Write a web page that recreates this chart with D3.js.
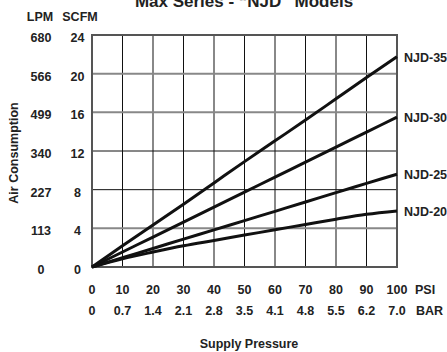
<!DOCTYPE html>
<html>
<head>
<meta charset="utf-8">
<script src="https://cdn.jsdelivr.net/npm/d3@7"></script>
<style>
  body { margin: 0; background: #fff; }
  svg text { font-family: "Liberation Sans", Arial, Helvetica, sans-serif; font-weight: bold; fill: #222; }
</style>
</head>
<body>
<svg id="chart" width="447" height="352"></svg>
<script>
// pressure in PSI, with the matching BAR labels
const psi = [0, 10, 20, 30, 40, 50, 60, 70, 80, 90, 100]
const bar = ["0", "0.7", "1.4", "2.1", "2.8", "3.5", "4.1", "4.8", "5.5", "6.2", "7.0"]

// consumption ticks: SCFM and LPM
const scfmTicks = [0, 4, 8, 12, 16, 20, 24]
const lpmTicks = ["0", "113", "227", "340", "499", "566", "680"]

// SCFM values, one per psi step
const njd35 = [0, 2.2, 4.35, 6.5, 8.7, 10.9, 13.05, 15.2, 17.4, 19.6, 21.75]
const njd30 = [0, 1.55, 3.1, 4.65, 6.2, 7.75, 9.3, 10.85, 12.4, 13.95, 15.5]
const njd25 = [0, 0.96, 1.92, 2.88, 3.84, 4.8, 5.76, 6.72, 7.7, 8.65, 9.6]
const njd20 = [0, 0.85, 1.55, 2.2, 2.75, 3.3, 3.85, 4.4, 4.95, 5.45, 5.8]

const seriesNames = ["NJD-35", "NJD-30", "NJD-25", "NJD-20"]
const seriesValues = [njd35, njd30, njd25, njd20]

const svg = d3.select("#chart")
const plotLeft = 92, plotRight = 397, plotTop = 35, plotBottom = 267
const fs = "12.5px"

const x = d3.scaleLinear().domain([0, 100]).range([plotLeft, plotRight])
const y = d3.scaleLinear().domain([0, 24]).range([plotBottom, plotTop])

// title, cut off at the top as in the scan
svg.append("text")
  .attr("x", 244).attr("y", 7)
  .attr("text-anchor", "middle")
  .attr("font-size", "17px")
  .text("Max Series - \u201CNJD\u201D Models")

// unit headers
svg.append("text").attr("x", 40).attr("y", 20.5).attr("text-anchor", "middle")
  .attr("font-size", fs).text("LPM")
svg.append("text").attr("x", 80).attr("y", 20.5).attr("text-anchor", "middle")
  .attr("font-size", fs).text("SCFM")

// grid lines
const grid = svg.append("g").attr("class", "grid")
grid.selectAll("line.v")
  .data(psi.slice(1, -1))
  .enter().append("line")
  .attr("class", "v")
  .attr("x1", d => x(d)).attr("x2", d => x(d))
  .attr("y1", plotTop).attr("y2", plotBottom)
  .attr("stroke", d => (d / 10) % 2 ? "#111" : "#888")
  .attr("stroke-width", d => (d / 10) % 2 ? 1 : 2)

grid.selectAll("line.h")
  .data(scfmTicks.slice(1, -1))
  .enter().append("line")
  .attr("class", "h")
  .attr("y1", d => y(d)).attr("y2", d => y(d))
  .attr("x1", plotLeft).attr("x2", plotRight)
  .attr("stroke", d => (d === 8 || d === 12) ? "#111" : "#888")
  .attr("stroke-width", d => (d === 8 || d === 12) ? 1 : 2)

// frame
svg.append("rect")
  .attr("x", plotLeft).attr("y", plotTop)
  .attr("width", plotRight - plotLeft).attr("height", plotBottom - plotTop)
  .attr("fill", "none").attr("stroke", "#555").attr("stroke-width", 2)

// y labels, two columns
svg.append("g").selectAll("text")
  .data(scfmTicks)
  .enter().append("text")
  .attr("x", 77.5).attr("y", d => y(d) + 7)
  .attr("text-anchor", "middle").attr("font-size", fs)
  .text(d => d)

svg.append("g").selectAll("text")
  .data(lpmTicks)
  .enter().append("text")
  .attr("x", 41).attr("y", (d, i) => y(scfmTicks[i]) + 7)
  .attr("text-anchor", "middle").attr("font-size", fs)
  .text(d => d)

svg.append("text")
  .attr("transform", "translate(18,153) rotate(-90)")
  .attr("text-anchor", "middle").attr("font-size", fs)
  .text("Air Consumption")

// x labels, psi and bar rows
svg.append("g").selectAll("text")
  .data(psi)
  .enter().append("text")
  .attr("x", d => x(d)).attr("y", 294)
  .attr("text-anchor", "middle").attr("font-size", fs)
  .text(d => d)
svg.append("text").attr("x", 415).attr("y", 294).attr("font-size", fs).text("PSI")

svg.append("g").selectAll("text")
  .data(bar)
  .enter().append("text")
  .attr("x", (d, i) => x(psi[i])).attr("y", 315)
  .attr("text-anchor", "middle").attr("font-size", fs)
  .text(d => d)
svg.append("text").attr("x", 416).attr("y", 315).attr("font-size", fs).text("BAR")

svg.append("text")
  .attr("x", 249).attr("y", 347.5)
  .attr("text-anchor", "middle").attr("font-size", fs)
  .text("Supply Pressure")

// series lines
const line = d3.line()
  .x((d, i) => x(psi[i]))
  .y(d => y(d))
  .curve(d3.curveMonotoneX)

svg.append("g").selectAll("path")
  .data(seriesValues)
  .enter().append("path")
  .attr("d", line)
  .attr("fill", "none")
  .attr("stroke", "#111")
  .attr("stroke-width", 3)

svg.append("g").selectAll("text")
  .data(seriesNames)
  .enter().append("text")
  .attr("x", 404)
  .attr("y", (d, i) => y(seriesValues[i][seriesValues[i].length - 1]) + 5)
  .attr("font-size", fs)
  .text(d => d)
</script>
</body>
</html>
